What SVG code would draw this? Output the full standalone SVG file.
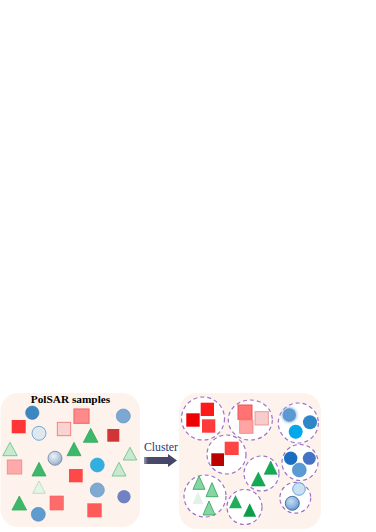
<svg xmlns="http://www.w3.org/2000/svg" width="376" height="532" viewBox="0 0 376 532">
<style>
.panel{fill:#fdf3ec}
.clu{fill:#ffffff;stroke:#9d72c8;stroke-width:1.2;stroke-dasharray:4 3}
.tg{fill:#3cb86a;stroke:#33a85e;stroke-width:0.8}
.tl{fill:#c8e9cf;stroke:#72c58c;stroke-width:0.9}
.tv{fill:#e4f4e8;stroke:#a9dcb6;stroke-width:0.8}
.tm{fill:#86d6a4;stroke:#3aa860;stroke-width:0.9}
.td{fill:#14aa55;stroke:#0e9a4a;stroke-width:0.6}
.title{font-family:"Liberation Serif",serif;font-weight:bold;font-size:11.3px;fill:#000}
.lbl{font-family:"Liberation Serif",serif;font-size:11.8px;fill:#1f3a78}
</style>
<defs>
<radialGradient id="silver" cx="0.4" cy="0.35" r="0.7">
<stop offset="0" stop-color="#eef3f8"/><stop offset="0.6" stop-color="#b8cade"/><stop offset="1" stop-color="#8ea6c4"/>
</radialGradient>
<radialGradient id="bluegl" cx="0.4" cy="0.35" r="0.7">
<stop offset="0" stop-color="#c4dcf4"/><stop offset="0.6" stop-color="#8db6e2"/><stop offset="1" stop-color="#5b8cc4"/>
</radialGradient>
<linearGradient id="shaft" x1="0" y1="0" x2="1" y2="0">
<stop offset="0" stop-color="#9a9ab4"/><stop offset="0.12" stop-color="#4a4a6c"/><stop offset="1" stop-color="#44446a"/>
</linearGradient>
<filter id="glow" x="-50%" y="-50%" width="200%" height="200%"><feGaussianBlur stdDeviation="1.2"/></filter>
</defs>
<rect width="376" height="532" fill="#ffffff"/>

<g id="samples">
<rect class="panel" x="0.5" y="393" width="139.5" height="134" rx="18"/>
<text class="title" x="70.5" y="403" text-anchor="middle">PolSAR samples</text>
<circle cx="32.3" cy="412.7" r="6.7" fill="#3c86c1" stroke="#3578b0" stroke-width="0.6"/>
<circle cx="39" cy="433.3" r="7" fill="#dfe7ef" stroke="#6aa0d0" stroke-width="0.9"/>
<circle cx="123.3" cy="416" r="7" fill="#7ba8d2" stroke="#6a98c4" stroke-width="0.8"/>
<circle cx="55" cy="458.3" r="7" fill="url(#silver)" stroke="#7c8fa8" stroke-width="0.9"/>
<circle cx="97.3" cy="465" r="7" fill="#33aee0" stroke="#2aa0d4" stroke-width="0.6"/>
<circle cx="97.3" cy="490" r="7" fill="#7eaad2" stroke="#6a98c4" stroke-width="0.8"/>
<circle cx="124" cy="496.7" r="6.3" fill="#6f83c4" stroke="#6070b5" stroke-width="0.6"/>
<circle cx="38.3" cy="514.3" r="7" fill="#5e9bcf" stroke="#5088bd" stroke-width="0.6"/>
<rect x="11.7" y="420" width="14" height="13.3" fill="#ff3535"/>
<rect x="74" y="409" width="15" height="14.3" fill="#ff8a8a" stroke="#f07070" stroke-width="1.2"/>
<rect x="57.3" y="422.3" width="13.4" height="13.4" fill="#f9d3d0" stroke="#f07a7a" stroke-width="0.9"/>
<rect x="107.3" y="429" width="12" height="12.7" fill="#d23535"/>
<rect x="7.3" y="460" width="14.4" height="14" fill="#ffaaaa" stroke="#f08a8a" stroke-width="0.9"/>
<rect x="69" y="469" width="13.7" height="13.3" fill="#ff4848"/>
<rect x="50" y="496" width="13.3" height="14" fill="#ff6b6b" stroke="#f25a5a" stroke-width="0.6"/>
<rect x="87.3" y="503.3" width="14.4" height="14" fill="#ff5a5a"/>
<polygon class="tg" points="90.7,428.3 98,442.3 83.4,442.3"/>
<polygon class="tl" points="10,442.3 17.2,455.7 2.8,455.7"/>
<polygon class="tg" points="74,442.3 81,455.7 67,455.7"/>
<polygon class="tl" points="130,447.3 136.8,460 123.2,460"/>
<polygon class="tg" points="39,462.3 46,476 32,476"/>
<polygon class="tl" points="119,462.3 126,476 112,476"/>
<polygon class="tv" points="39,481 45.3,493.3 32.7,493.3"/>
<polygon class="tg" points="19.3,496 26.6,510 12,510"/>
</g>

<g id="connectors">
<path d="M144,457 H168 V454 L177,460.5 L168,467 V464 H144 Z" fill="url(#shaft)"/>
<text class="lbl" x="161" y="450.7" text-anchor="middle">Cluster</text>
</g>

<g id="clusters">
<rect class="panel" x="179" y="393" width="142" height="136" rx="18"/>
<g id="cluster1">
<circle class="clu" cx="203" cy="418.5" r="21.5"/>
<rect x="200.7" y="402.7" width="13.3" height="13.3" fill="#ff1a1a"/>
<rect x="186.3" y="413.3" width="13.4" height="13.4" fill="#f00000"/>
<rect x="202" y="419.3" width="13.3" height="13.4" fill="#ff3a3a"/>
</g>
<g id="cluster2">
<ellipse class="clu" cx="250.3" cy="420" rx="22" ry="20"/>
<rect x="238" y="405" width="14" height="14.3" fill="#ff7373" stroke="#ee5555" stroke-width="1"/>
<rect x="239.7" y="420" width="13.3" height="13.3" fill="#ffa3a3" stroke="#f08080" stroke-width="0.8"/>
<rect x="255" y="411.7" width="13.3" height="13.3" fill="#f6cccc" stroke="#ee8888" stroke-width="0.8"/>
</g>
<g id="cluster3">
<circle class="clu" cx="298.3" cy="423" r="20"/>
<circle cx="289.3" cy="415" r="8" fill="#8ab6e0" opacity="0.7" filter="url(#glow)"/>
<circle cx="289.3" cy="415" r="6.7" fill="#5d98d0"/>
<circle cx="310" cy="422.3" r="7" fill="#2e86c8"/>
<circle cx="295.7" cy="431.7" r="7" fill="#00a8ec"/>
</g>
<g id="cluster4">
<circle class="clu" cx="226.5" cy="454.5" r="19.5"/>
<rect x="224.7" y="441.7" width="14" height="13.3" fill="#ff4444"/>
<rect x="211.3" y="453.3" width="12.7" height="12.7" fill="#bb0000"/>
</g>
<g id="cluster5">
<circle class="clu" cx="261.5" cy="473.5" r="17.5"/>
<polygon class="td" points="270.7,461 277.2,474.3 264.2,474.3"/>
<polygon class="td" points="258.3,472.3 265.3,486 251.3,486"/>
</g>
<g id="cluster6">
<circle class="clu" cx="300" cy="462.5" r="18"/>
<circle cx="290.7" cy="458.3" r="6.7" fill="#1a6ec0"/>
<circle cx="309.3" cy="458.3" r="6.5" fill="#4472c4"/>
<circle cx="299.3" cy="470" r="7" fill="#5b9bd5" stroke="#4a88c4" stroke-width="0.6"/>
</g>
<g id="cluster7">
<circle class="clu" cx="205" cy="496" r="21"/>
<polygon class="tm" points="199,476 205,489.3 193,489.3"/>
<polygon class="tm" points="212,482.7 218,496.7 206,496.7"/>
<polygon points="198,491.7 203.5,504 192.5,504" fill="#e0f3e6"/>
<polygon class="tm" points="209,501 215,515 203,515"/>
</g>
<g id="cluster8">
<circle class="clu" cx="244.5" cy="507" r="17.5"/>
<polygon points="235.5,495 242,508.3 229,508.3" fill="#1fae5c"/>
<polygon points="249.7,503.3 256.2,516.7 243.2,516.7" fill="#0a9e48"/>
</g>
<g id="cluster9">
<circle class="clu" cx="295.3" cy="497.8" r="15.4"/>
<circle cx="299" cy="489" r="6.3" fill="#c9dff2" stroke="#5b9bd5" stroke-width="0.9"/>
<circle cx="292.3" cy="503.3" r="7" fill="url(#bluegl)" stroke="#3d6a9a" stroke-width="0.9"/>
</g>
</g>
</svg>
